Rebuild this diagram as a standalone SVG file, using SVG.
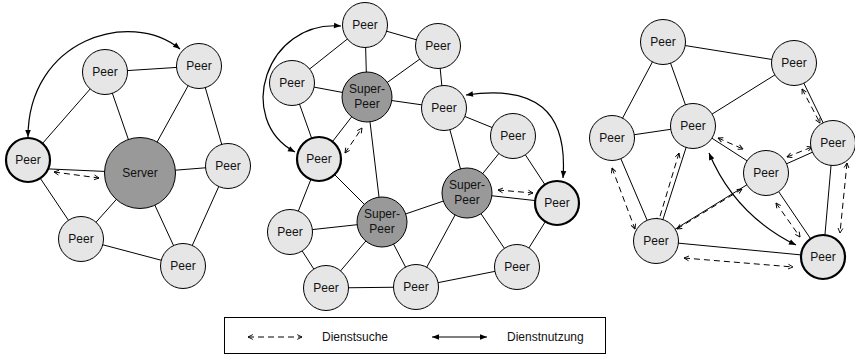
<svg xmlns="http://www.w3.org/2000/svg" width="855" height="355" viewBox="0 0 855 355">
  <style>
    .edge { stroke: #000; stroke-width: 1; fill: none; }
    .peer { fill: #e6e6e6; stroke: #000; stroke-width: 1; }
    .peer.home { stroke-width: 2.2; }
    .hub { fill: #999999; stroke: #000; stroke-width: 1; }
    .lbl { font-family: "Liberation Sans", Arial, sans-serif; font-size: 12px; fill: #111; text-anchor: middle; }
    .leg { font-family: "Liberation Sans", Arial, sans-serif; font-size: 12px; fill: #111; }
    .search { stroke: #000; stroke-width: 1; fill: none; stroke-dasharray: 6 4; marker-start: url(#open); marker-end: url(#open); }
    .use { stroke: #000; stroke-width: 1.2; fill: none; marker-start: url(#solid); marker-end: url(#solid); }
  </style>
  <defs>
    <marker id="solid" viewBox="0 0 10 10" refX="10" refY="5" markerWidth="9" markerHeight="7" markerUnits="userSpaceOnUse" orient="auto-start-reverse">
      <path d="M0,1 L10,5 L0,9 z" fill="#000"/>
    </marker>
    <marker id="open" viewBox="0 0 10 10" refX="9" refY="5" markerWidth="6" markerHeight="7" markerUnits="userSpaceOnUse" orient="auto-start-reverse">
      <path d="M1,1 L9,5 L1,9" fill="none" stroke="#000" stroke-width="1.5"/>
    </marker>
  </defs>

  <!-- links: drawn centre to centre, circles cover the ends -->
  <g id="connectors">
    <!-- client/server network -->
    <g class="edge">
      <line x1="105" y1="72" x2="199" y2="66"/>
      <line x1="105" y1="72" x2="140" y2="173"/>
      <line x1="105" y1="72" x2="28" y2="160"/>
      <line x1="199" y1="66" x2="140" y2="173"/>
      <line x1="199" y1="66" x2="228" y2="166"/>
      <line x1="140" y1="173" x2="228" y2="166"/>
      <line x1="140" y1="173" x2="28" y2="168"/>
      <line x1="28" y1="160" x2="81" y2="239"/>
      <line x1="81" y1="239" x2="140" y2="173"/>
      <line x1="81" y1="239" x2="183" y2="266"/>
      <line x1="140" y1="173" x2="183" y2="266"/>
      <line x1="228" y1="166" x2="183" y2="266"/>
    </g>
    <path class="use" d="M180,49 C130,8 28,40 28,137"/>
    <line class="search" x1="54" y1="172" x2="99" y2="178"/>

    <!-- super-peer network -->
    <g class="edge">
      <line x1="365" y1="25" x2="438" y2="46"/>
      <line x1="365" y1="25" x2="292" y2="83"/>
      <line x1="365" y1="25" x2="367" y2="97"/>
      <line x1="438" y1="46" x2="367" y2="97"/>
      <line x1="438" y1="46" x2="444" y2="108"/>
      <line x1="292" y1="83" x2="367" y2="97"/>
      <line x1="292" y1="83" x2="319" y2="159"/>
      <line x1="367" y1="97" x2="444" y2="108"/>
      <line x1="367" y1="97" x2="382" y2="222"/>
      <line x1="367" y1="97" x2="319" y2="159"/>
      <line x1="444" y1="108" x2="513" y2="136"/>
      <line x1="444" y1="108" x2="467" y2="193"/>
      <line x1="513" y1="136" x2="467" y2="193"/>
      <line x1="513" y1="136" x2="557" y2="203"/>
      <line x1="467" y1="193" x2="557" y2="203"/>
      <line x1="467" y1="193" x2="382" y2="222"/>
      <line x1="467" y1="193" x2="517" y2="267"/>
      <line x1="467" y1="193" x2="416" y2="287"/>
      <line x1="319" y1="159" x2="382" y2="222"/>
      <line x1="319" y1="159" x2="290" y2="232"/>
      <line x1="290" y1="232" x2="382" y2="222"/>
      <line x1="290" y1="232" x2="326" y2="288"/>
      <line x1="382" y1="222" x2="326" y2="288"/>
      <line x1="382" y1="222" x2="416" y2="287"/>
      <line x1="326" y1="288" x2="416" y2="287"/>
      <line x1="416" y1="287" x2="517" y2="267"/>
      <line x1="517" y1="267" x2="557" y2="203"/>
    </g>
    <path class="use" d="M341,26 C265,20 235,120 295,152"/>
    <path class="use" d="M466,95 C535,85 568,110 563,178"/>
    <line class="search" x1="345" y1="153" x2="362" y2="128"/>
    <line class="search" x1="498" y1="190" x2="533" y2="193"/>

    <!-- pure peer-to-peer network -->
    <g class="edge">
      <line x1="663" y1="42" x2="794" y2="63"/>
      <line x1="663" y1="42" x2="612" y2="138"/>
      <line x1="663" y1="42" x2="693" y2="126"/>
      <line x1="794" y1="63" x2="693" y2="126"/>
      <line x1="794" y1="63" x2="833" y2="143"/>
      <line x1="612" y1="138" x2="693" y2="126"/>
      <line x1="612" y1="138" x2="656" y2="241"/>
      <line x1="693" y1="126" x2="656" y2="241"/>
      <line x1="693" y1="126" x2="766" y2="173"/>
      <line x1="766" y1="173" x2="833" y2="143"/>
      <line x1="766" y1="173" x2="656" y2="241"/>
      <line x1="766" y1="173" x2="823" y2="257"/>
      <line x1="833" y1="143" x2="823" y2="257"/>
      <line x1="656" y1="241" x2="823" y2="257"/>
    </g>
    <path class="use" d="M709,153 Q735,215 796,245"/>
    <line class="search" x1="612" y1="168" x2="635" y2="229"/>
    <line class="search" x1="679" y1="153" x2="658" y2="223"/>
    <line class="search" x1="718" y1="138" x2="743" y2="149"/>
    <line class="search" x1="787" y1="157" x2="812" y2="147"/>
    <line class="search" x1="802" y1="89" x2="820" y2="123"/>
    <line class="search" x1="742" y1="189" x2="677" y2="229"/>
    <line class="search" x1="776" y1="203" x2="800" y2="237"/>
    <line class="search" x1="847" y1="163" x2="840" y2="233"/>
    <line class="search" x1="684" y1="258" x2="793" y2="267"/>
  </g>

  <!-- client/server nodes -->
  <g id="cs-peer-a"><circle class="peer" cx="105" cy="72" r="22.5"/><text class="lbl" x="105" y="76">Peer</text></g>
  <g id="cs-peer-b"><circle class="peer" cx="199" cy="66" r="22.5"/><text class="lbl" x="199" y="70">Peer</text></g>
  <g id="cs-peer-home"><circle class="peer home" cx="28" cy="160" r="22"/><text class="lbl" x="28" y="164">Peer</text></g>
  <g id="cs-server"><circle class="hub" cx="140" cy="173" r="35.5"/><text class="lbl" x="140" y="177">Server</text></g>
  <g id="cs-peer-c"><circle class="peer" cx="228" cy="166" r="22.5"/><text class="lbl" x="228" y="170">Peer</text></g>
  <g id="cs-peer-d"><circle class="peer" cx="81" cy="239" r="22.5"/><text class="lbl" x="81" y="243">Peer</text></g>
  <g id="cs-peer-e"><circle class="peer" cx="183" cy="266" r="22.5"/><text class="lbl" x="183" y="270">Peer</text></g>

  <!-- super-peer nodes -->
  <g id="sp-peer-top"><circle class="peer" cx="365" cy="25" r="22.5"/><text class="lbl" x="365" y="29">Peer</text></g>
  <g id="sp-peer-b"><circle class="peer" cx="438" cy="46" r="22.5"/><text class="lbl" x="438" y="50">Peer</text></g>
  <g id="sp-peer-c"><circle class="peer" cx="292" cy="83" r="22.5"/><text class="lbl" x="292" y="87">Peer</text></g>
  <g id="sp-super-1"><circle class="hub" cx="367" cy="97" r="25"/><text class="lbl" x="367" y="93">Super-</text><text class="lbl" x="367" y="108">Peer</text></g>
  <g id="sp-peer-d"><circle class="peer" cx="444" cy="108" r="22.5"/><text class="lbl" x="444" y="112">Peer</text></g>
  <g id="sp-peer-e"><circle class="peer" cx="513" cy="136" r="22.5"/><text class="lbl" x="513" y="140">Peer</text></g>
  <g id="sp-peer-home-1"><circle class="peer home" cx="319" cy="159" r="22"/><text class="lbl" x="319" y="163">Peer</text></g>
  <g id="sp-super-2"><circle class="hub" cx="467" cy="193" r="25"/><text class="lbl" x="467" y="189">Super-</text><text class="lbl" x="467" y="204">Peer</text></g>
  <g id="sp-peer-home-2"><circle class="peer home" cx="557" cy="203" r="22"/><text class="lbl" x="557" y="207">Peer</text></g>
  <g id="sp-super-3"><circle class="hub" cx="382" cy="222" r="25"/><text class="lbl" x="382" y="218">Super-</text><text class="lbl" x="382" y="233">Peer</text></g>
  <g id="sp-peer-f"><circle class="peer" cx="290" cy="232" r="22.5"/><text class="lbl" x="290" y="236">Peer</text></g>
  <g id="sp-peer-g"><circle class="peer" cx="517" cy="267" r="22.5"/><text class="lbl" x="517" y="271">Peer</text></g>
  <g id="sp-peer-h"><circle class="peer" cx="326" cy="288" r="22.5"/><text class="lbl" x="326" y="292">Peer</text></g>
  <g id="sp-peer-i"><circle class="peer" cx="416" cy="287" r="22.5"/><text class="lbl" x="416" y="291">Peer</text></g>

  <!-- peer-to-peer nodes -->
  <g id="p2p-peer-a"><circle class="peer" cx="663" cy="42" r="22.5"/><text class="lbl" x="663" y="46">Peer</text></g>
  <g id="p2p-peer-b"><circle class="peer" cx="794" cy="63" r="22.5"/><text class="lbl" x="794" y="67">Peer</text></g>
  <g id="p2p-peer-c"><circle class="peer" cx="612" cy="138" r="22.5"/><text class="lbl" x="612" y="142">Peer</text></g>
  <g id="p2p-peer-d"><circle class="peer" cx="693" cy="126" r="22.5"/><text class="lbl" x="693" y="130">Peer</text></g>
  <g id="p2p-peer-e"><circle class="peer" cx="833" cy="143" r="22.5"/><text class="lbl" x="833" y="147">Peer</text></g>
  <g id="p2p-peer-f"><circle class="peer" cx="766" cy="173" r="22.5"/><text class="lbl" x="766" y="177">Peer</text></g>
  <g id="p2p-peer-g"><circle class="peer" cx="656" cy="241" r="22.5"/><text class="lbl" x="656" y="245">Peer</text></g>
  <g id="p2p-peer-home"><circle class="peer home" cx="823" cy="257" r="22"/><text class="lbl" x="823" y="261">Peer</text></g>

  <!-- legend -->
  <g id="legend">
    <rect x="224.5" y="317.5" width="381" height="36" fill="#fff" stroke="#000" stroke-width="1"/>
    <line class="search" x1="248" y1="337" x2="302" y2="337" stroke-dasharray="3 2.5"/>
    <text class="leg" x="322" y="341">Dienstsuche</text>
    <line class="use" x1="432" y1="337" x2="487" y2="337" marker-start="url(#solid)"/>
    <text class="leg" x="507" y="341">Dienstnutzung</text>
  </g>
</svg>
